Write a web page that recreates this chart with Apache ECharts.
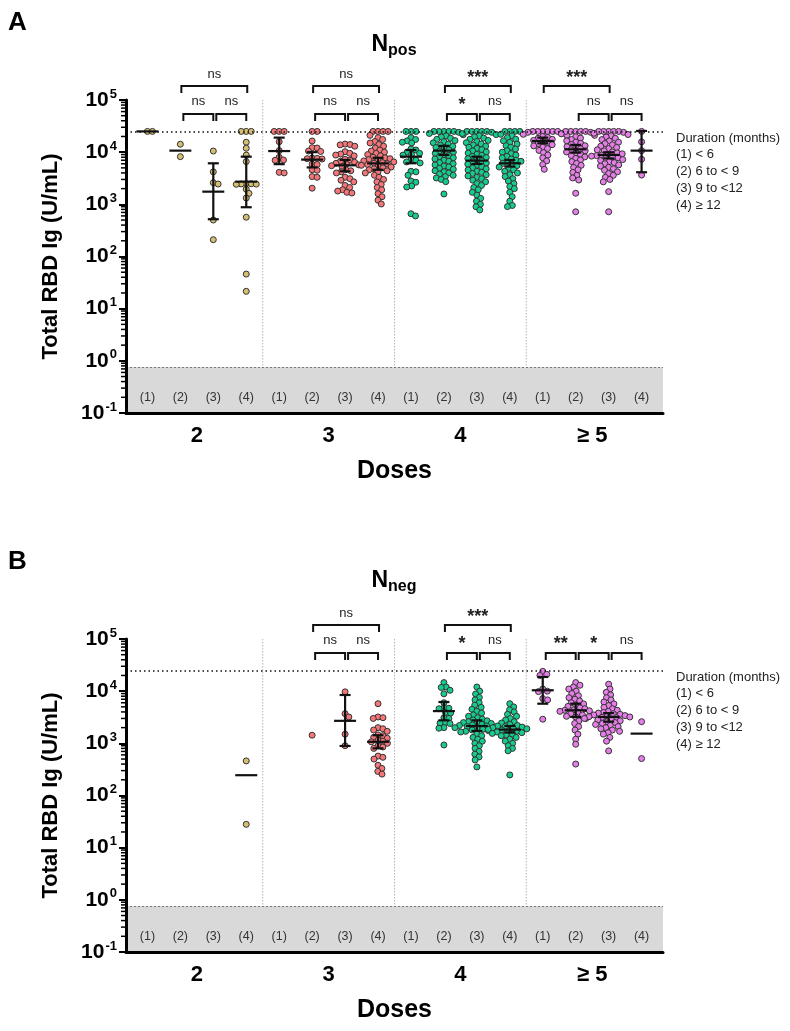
<!DOCTYPE html>
<html><head><meta charset="utf-8">
<script src="https://cdn.jsdelivr.net/npm/echarts@6/dist/echarts.min.js"></script>
<style>html,body{margin:0;padding:0;background:#fff}#c{width:790px;height:1031px}</style>
</head><body><div id="c"></div>
<script>
// ---------- DATA ----------
const doseLabels = ['2', '3', '4', '≥ 5'];
const durationLabels = ['(1)', '(2)', '(3)', '(4)'];
const legendLines = ['Duration (months)', '(1) < 6', '(2) 6 to < 9', '(3) 9 to <12', '(4) ≥ 12'];
const ceilingValue = 25000;
const lodValue = 0.76;
const separatorPositions = [3.5, 7.5, 11.5];

// Panel A (N pos): [dose][duration] values, U/mL
const posDose2 = [
  [25000, 25000],
  [14200, 8200],
  [10500, 4200, 2600, 2450, 500, 210],
  [25000, 25000, 25000, 15500, 11900, 8800, 6600, 2500, 2480, 2460, 2440, 2420, 1950, 1620, 1320, 566, 46, 21.5]
];
const posDose3 = [
  [25000, 25000, 25000, 15900, 10700, 7960, 7100, 7000, 4100, 4000],
  [25000, 25000, 16400, 12200, 12000, 10500, 10300, 7700, 7600, 7500, 7400, 5900, 5800, 4600, 4500, 3400, 3300, 2040],
  [14300, 14000, 13800, 13000, 10200, 9500, 9200, 8800, 8500, 7300, 7000, 6700, 6400, 6100, 5900, 5700, 5500, 5300, 4600, 4400, 4200, 4000, 3300, 3100, 2900, 2700, 2300, 2100, 1900, 1800, 1700, 1650],
  [25000, 25000, 25000, 25000, 21000, 19000, 17500, 16000, 15000, 14000, 13000, 12000, 11000, 10500, 10000, 9500, 9000, 8500, 8000, 7800, 7500, 7200, 7000, 6800, 6500, 6300, 6100, 6000, 5800, 5600, 5400, 5200, 5000, 4800, 4600, 4400, 4200, 4000, 3600, 3300, 3000, 2700, 2400, 2100, 1900, 1600, 1400, 1200, 1015]
];
const posDose4 = [
  [25000, 25000, 25000, 19000, 17500, 16500, 15500, 15000, 11500, 11000, 10000, 9500, 9000, 8800, 7200, 7000, 6500, 6200, 4300, 4200, 3600, 2800, 2650, 2250, 2150, 660, 600],
  [25000, 25000, 25000, 25000, 25000, 24000, 22800, 21600, 20500, 19500, 18500, 17600, 16700, 15900, 15100, 14300, 13600, 12900, 12300, 11700, 11100, 10500, 10000, 9500, 9000, 8600, 8200, 7800, 7400, 7000, 6700, 6300, 6000, 5700, 5400, 5200, 4900, 4700, 4400, 4200, 4000, 3800, 3600, 3400, 3200, 3000, 2720, 1580],
  [25000, 25000, 25000, 25000, 25000, 24000, 22800, 21700, 20600, 19600, 18600, 17700, 16800, 16000, 15200, 14400, 13700, 13000, 12400, 11800, 11200, 10600, 10100, 9600, 9100, 8700, 8300, 7900, 7500, 7100, 6800, 6500, 6200, 5900, 5600, 5300, 5000, 4800, 4550, 4300, 4100, 3900, 3700, 3500, 3300, 3100, 2900, 2700, 2500, 2300, 2100, 1900, 1700, 1500, 1300, 1150, 1000, 900, 780],
  [25000, 25000, 25000, 25000, 22000, 20500, 19000, 17700, 16500, 15400, 14300, 13300, 12400, 11500, 10700, 10000, 9400, 8800, 8300, 7800, 7400, 7000, 6700, 6400, 6100, 5800, 5500, 5200, 4900, 4600, 4300, 4000, 3700, 3400, 3100, 2800, 2500, 2200, 2000, 1700, 1400, 1150, 950, 905]
];
const posDose5 = [
  [25000, 25000, 25000, 25000, 25000, 25000, 24000, 23000, 22000, 21000, 20000, 19200, 18400, 17600, 16800, 16000, 15300, 14600, 13900, 13200, 12500, 11700, 10800, 9800, 8800, 7800, 6800, 5800, 4700],
  [25000, 25000, 25000, 25000, 25000, 24000, 22500, 21000, 19800, 18600, 17500, 16500, 15600, 14800, 14000, 13300, 12700, 12100, 11600, 11100, 10600, 10100, 9600, 9100, 8600, 8100, 7600, 7100, 6600, 6100, 5600, 5100, 4600, 4100, 3600, 3200, 2930, 1630, 720],
  [25000, 25000, 25000, 25000, 25000, 24000, 23000, 21800, 20600, 19500, 18400, 17400, 16400, 15500, 14600, 13800, 13000, 12300, 11700, 11100, 10600, 10100, 9700, 9300, 9000, 8800, 8600, 8400, 8100, 7800, 7500, 7200, 6900, 6600, 6300, 6000, 5700, 5400, 5100, 4800, 4500, 4200, 3900, 3600, 3300, 3000, 2700, 1750, 720],
  [25000, 15800, 10700, 7300, 3640]
];
// median and error bar ends, per duration group (16 = 4 doses x 4 durations)
const posMedian = [25000, 10700, 1750, 2720, 10500, 7200, 5600, 6100, 8200, 10700, 6880, 6120, 16400, 11350, 8830, 10700];
const posUpper  = [null, null, 6120, 8200, 19000, 10000, 7100, 7800, 11000, 13200, 8200, 7070, 19000, 13800, 9950, 25500];
const posLower  = [null, null, 518, 880, 5890, 5100, 4300, 4600, 6130, 8830, 5940, 5300, 14800, 9800, 7580, 4120];
// brackets: [from group, to group, level, label]
const posBrackets = [
  [1, 3, 'top', 'ns'], [1, 2, 'low', 'ns'], [2, 3, 'low', 'ns'],
  [5, 7, 'top', 'ns'], [5, 6, 'low', 'ns'], [6, 7, 'low', 'ns'],
  [9, 11, 'top', '***'], [9, 10, 'low', '*'], [10, 11, 'low', 'ns'],
  [12, 14, 'top', '***'], [13, 14, 'low', 'ns'], [14, 15, 'low', 'ns']
];

// Panel B (N neg)
const negDose2 = [[], [], [], [460, 28]];
const negDose3 = [
  [],
  [1430],
  [9700, 3700, 3200, 1500, 900],
  [5750, 3200, 3100, 3000, 2000, 1900, 1800, 1700, 1450, 1400, 1300, 1250, 1150, 1100, 1070, 1000, 900, 850, 800, 570, 540, 500, 380, 330, 290, 257]
];
const negDose4 = [
  [],
  [14600, 12000, 11800, 10400, 8900, 6000, 4800, 4700, 4600, 3900, 3800, 3100, 3000, 2500, 2450, 2400, 2000, 1950, 930],
  [12000, 10000, 8800, 7600, 6800, 6000, 5400, 4900, 4500, 4100, 3800, 3500, 3300, 3100, 2900, 2800, 2700, 2600, 2500, 2450, 2400, 2300, 2250, 2200, 2150, 2100, 2050, 2000, 1950, 1900, 1850, 1800, 1750, 1700, 1650, 1600, 1500, 1400, 1300, 1200, 1100, 1000, 900, 800, 700, 620, 550, 480, 353],
  [5750, 5000, 4400, 4000, 3600, 3300, 3000, 2800, 2600, 2450, 2300, 2200, 2150, 2100, 2050, 2000, 1950, 1900, 1850, 1800, 1750, 1700, 1650, 1600, 1550, 1500, 1450, 1400, 1300, 1200, 1100, 1000, 900, 800, 720, 248]
];
const negDose5 = [
  [24000, 21000, 20000, 11000, 10000, 9800, 7200, 6800, 2900],
  [14600, 13000, 12000, 11000, 10000, 9000, 8200, 7500, 7000, 6500, 6000, 5700, 5400, 5100, 4800, 4600, 4400, 4300, 4200, 4100, 3900, 3700, 3500, 3300, 3200, 3000, 2700, 2400, 2100, 1800, 1500, 1200, 960, 400],
  [13600, 11000, 9500, 8500, 7500, 6800, 6200, 5700, 5300, 4900, 4600, 4300, 4100, 3900, 3800, 3700, 3600, 3500, 3400, 3300, 3250, 3200, 3150, 3100, 3000, 2900, 2800, 2700, 2600, 2500, 2400, 2300, 2200, 2100, 2000, 1900, 1800, 1700, 1600, 1500, 1300, 1100, 716],
  [2600, 510]
];
const negMedian = [null, null, null, 245, null, null, 2700, 1070, null, 4150, 2150, 1830, 10400, 4300, 3200, 1535];
const negUpper  = [null, null, null, null, null, null, 8450, 1430, null, 6200, 2760, 2150, 18700, 5750, 3800, null];
const negLower  = [null, null, null, null, null, null, 890, 800, null, 2760, 1730, 1610, 5750, 3200, 2600, null];
const negBrackets = [
  [5, 7, 'top', 'ns'], [5, 6, 'low', 'ns'], [6, 7, 'low', 'ns'],
  [9, 11, 'top', '***'], [9, 10, 'low', '*'], [10, 11, 'low', 'ns'],
  [12, 13, 'low', '**'], [13, 14, 'low', '*'], [14, 15, 'low', 'ns']
];

// ---------- STYLE / LAYOUT ----------
const FONT = "'Liberation Sans', Arial, Helvetica, sans-serif";
const doseColors = ['#D3BE72', '#F47679', '#17CB8F', '#E57FE7'];
const GRID_LEFT = 126, GRID_W = 537, GRID_H = 313;
const gridTops = [100, 639];
const XMIN = -0.65, XMAX = 15.65;
const XPX = GRID_W / (XMAX - XMIN), YPX = GRID_H / 6, DIAM = 5;

function swarm(vals) {
  const pts = vals.map(v => ({ v, y: -Math.log10(v) * YPX, x: 0 }));
  const order = pts.slice().sort((a, b) => a.y - b.y);
  const placed = [];
  for (const p of order) {
    const cands = [0];
    for (const q of placed) {
      const dy = Math.abs(q.y - p.y);
      if (dy < DIAM) { const dx = Math.sqrt(DIAM * DIAM - dy * dy); cands.push(q.x + dx, q.x - dx); }
    }
    cands.sort((a, b) => (Math.abs(a) - Math.abs(b)) || (b - a));
    let found = false;
    for (const c of cands) {
      if (placed.every(q => (q.x - c) ** 2 + (q.y - p.y) ** 2 >= DIAM * DIAM - 1e-6)) { p.x = c; found = true; break; }
    }
    if (!found) p.x = Math.max(...placed.map(q => q.x)) + DIAM;
    placed.push(p);
  }
  return pts;
}

const yLabelRich = {
  b: { fontSize: 21, fontWeight: 'bold', color: '#000', fontFamily: FONT },
  s: { fontSize: 13, fontWeight: 'bold', color: '#000', fontFamily: FONT, padding: [0, 0, 12, 1] }
};

const grids = [], xAxes = [], yAxes = [], series = [];
const panels = [
  { doses: [posDose2, posDose3, posDose4, posDose5], med: posMedian, up: posUpper, lo: posLower, br: posBrackets },
  { doses: [negDose2, negDose3, negDose4, negDose5], med: negMedian, up: negUpper, lo: negLower, br: negBrackets }
];
const minorVals = [];
for (let k = -1; k < 5; k++) for (let m = 2; m <= 9; m++) minorVals.push(m * Math.pow(10, k));

panels.forEach((P, p) => {
  grids.push({ left: GRID_LEFT, top: gridTops[p], width: GRID_W, height: GRID_H });
  xAxes.push({
    type: 'value', gridIndex: p, min: XMIN, max: XMAX, position: 'bottom', z: 10,
    axisLine: { show: true, onZero: false, lineStyle: { color: '#000', width: 3 } },
    axisTick: { show: false }, splitLine: { show: false },
    axisLabel: {
      customValues: [0, 1, 2, 3, 4, 5, 6, 7, 8, 9, 10, 11, 12, 13, 14, 15], inside: true, margin: 9,
      formatter: v => durationLabels[Math.round(v) % 4], color: '#333', fontSize: 12.5, fontFamily: FONT
    }
  });
  xAxes.push({
    type: 'value', gridIndex: p, min: XMIN, max: XMAX, position: 'bottom',
    axisLine: { show: false, onZero: false }, axisTick: { show: false }, splitLine: { show: false },
    axisLabel: {
      customValues: [1.5, 5.5, 9.5, 13.5], margin: 12,
      formatter: v => doseLabels[Math.round((v - 1.5) / 4)],
      color: '#000', fontSize: 22, fontWeight: 'bold', fontFamily: FONT
    },
    name: 'Doses', nameLocation: 'middle', nameGap: 46,
    nameTextStyle: { fontSize: 25, fontWeight: 'bold', color: '#000', fontFamily: FONT }
  });
  yAxes.push({
    type: 'log', gridIndex: p, min: 0.1, max: 100000, logBase: 10, z: 10,
    axisLine: { show: true, onZero: false, lineStyle: { color: '#000', width: 3 } },
    axisTick: { show: true, length: 7, lineStyle: { color: '#000', width: 2 } },
    splitLine: { show: false },
    axisLabel: {
      margin: 9,
      formatter: v => '{b|10}{s|' + Math.round(Math.log10(v)) + '}',
      rich: yLabelRich
    },
    name: 'Total RBD Ig (U/mL)', nameLocation: 'middle', nameGap: 64,
    nameTextStyle: { fontSize: 22, fontWeight: 'bold', color: '#000', fontFamily: FONT }
  });
  const xi = 2 * p, yi = p;

  // band below detection limit + ceiling line
  series.push({
    type: 'scatter', xAxisIndex: xi, yAxisIndex: yi, data: [], silent: true, z: 1,
    markArea: { silent: true, itemStyle: { color: '#d9d9d9' }, data: [[{ yAxis: 0.1 }, { yAxis: lodValue }]] },
    markLine: {
      silent: true, symbol: 'none', label: { show: false }, animation: false,
      data: [
        { yAxis: ceilingValue, lineStyle: { color: '#111', width: 1.5, type: [1.5, 3] } },
        { yAxis: lodValue, lineStyle: { color: '#777', width: 1, type: [2, 2] } }
      ]
    }
  });
  // dose separators
  series.push({
    type: 'custom', xAxisIndex: xi, yAxisIndex: yi, silent: true, clip: false, z: 1,
    data: separatorPositions.map(s => [s, 1]),
    renderItem: (params, api) => {
      const a = api.coord([api.value(0), 100000]);
      const b = api.coord([api.value(0), lodValue]);
      return { type: 'line', shape: { x1: a[0], y1: a[1], x2: b[0], y2: b[1] }, style: { stroke: '#b5b5b5', lineWidth: 1, lineDash: [1.5, 1.5] } };
    }
  });
  // minor ticks
  series.push({
    type: 'custom', xAxisIndex: xi, yAxisIndex: yi, silent: true, clip: false,
    data: [[XMIN, 1]],
    renderItem: (params, api) => ({
      type: 'group',
      children: minorVals.map(v => {
        const c = api.coord([XMIN, v]);
        return { type: 'line', shape: { x1: c[0] - 5, y1: c[1], x2: c[0], y2: c[1] }, style: { stroke: '#000', lineWidth: 1.5 } };
      })
    })
  });
  // points
  P.doses.forEach((dose, d) => {
    const data = [];
    dose.forEach((vals, s) => {
      const idx = d * 4 + s;
      swarm(vals).forEach(pt => data.push([idx + pt.x / XPX, pt.v]));
    });
    series.push({
      type: 'scatter', xAxisIndex: xi, yAxisIndex: yi, data, symbolSize: 6, z: 3,
      itemStyle: { color: doseColors[d], borderColor: '#333', borderWidth: 1, opacity: 1 }
    });
  });
  // medians and error bars
  const mIdx = [];
  P.med.forEach((m, i) => { if (m != null) mIdx.push([i, m]); });
  series.push({
    type: 'custom', xAxisIndex: xi, yAxisIndex: yi, silent: true, clip: false, z: 5,
    data: mIdx,
    renderItem: (params, api) => {
      const i = api.value(0);
      const c = api.coord([i, api.value(1)]);
      const st = { stroke: '#111', lineWidth: 2.2 };
      const ch = [{ type: 'line', shape: { x1: c[0] - 11, y1: c[1], x2: c[0] + 11, y2: c[1] }, style: st }];
      if (P.up[i] != null) {
        const u = api.coord([i, P.up[i]]), l = api.coord([i, P.lo[i]]);
        ch.push({ type: 'line', shape: { x1: c[0], y1: u[1], x2: c[0], y2: l[1] }, style: st });
        ch.push({ type: 'line', shape: { x1: c[0] - 5.5, y1: u[1], x2: c[0] + 5.5, y2: u[1] }, style: st });
        ch.push({ type: 'line', shape: { x1: c[0] - 5.5, y1: l[1], x2: c[0] + 5.5, y2: l[1] }, style: st });
      }
      return { type: 'group', children: ch };
    }
  });
  // significance brackets
  series.push({
    type: 'custom', xAxisIndex: xi, yAxisIndex: yi, silent: true, clip: false, z: 6,
    data: P.br.map(b => [b[0], 100000]),
    renderItem: (params, api) => {
      const b = P.br[params.dataIndex];
      const top = api.coord([0, 100000])[1];
      const xa = api.coord([b[0], 100000])[0], xb = api.coord([b[1], 100000])[0];
      let yLine, yLeg, yText, x1, x2;
      if (b[2] === 'top') { yLine = top - 14; yLeg = top - 7; yText = top - 26; x1 = xa + 1; x2 = xb + 1; }
      else { yLine = top + 14; yLeg = top + 21; yText = top + 1; x1 = xa + 3; x2 = xb; }
      const star = b[3].indexOf('*') >= 0;
      return {
        type: 'group', children: [
          { type: 'polyline', shape: { points: [[x1, yLeg], [x1, yLine], [x2, yLine], [x2, yLeg]] }, style: { stroke: '#111', lineWidth: 2, fill: null } },
          { type: 'text', style: { x: (x1 + x2) / 2, y: yText + (star ? 4 : 0), text: b[3], align: 'center', verticalAlign: 'middle',
            font: star ? 'bold 18px ' + FONT : '13px ' + FONT, fill: '#222' } }
        ]
      };
    }
  });
});

const titleSubs = ['pos', 'neg'];
const graphics = [];
['A', 'B'].forEach((L, p) => {
  graphics.push({ type: 'text', left: 8, top: [10, 549][p], style: { text: L, font: 'bold 26px ' + FONT, fill: '#000' } });
  graphics.push({
    type: 'text', x: 394, y: [45, 581][p],
    style: {
      text: '{n|N}{s|' + titleSubs[p] + '}', align: 'center', verticalAlign: 'middle',
      rich: {
        n: { fontSize: 23, fontWeight: 'bold', fontFamily: FONT, fill: '#000' },
        s: { fontSize: 16, fontWeight: 'bold', fontFamily: FONT, fill: '#000', padding: [12, 0, 0, 0] }
      }
    }
  });
  legendLines.forEach((t, i) => {
    graphics.push({ type: 'text', x: 676, y: gridTops[p] + 38 + i * 16.8,
      style: { text: t, font: '13px ' + FONT, fill: '#222', verticalAlign: 'middle' } });
  });
});

const chart = echarts.init(document.getElementById('c'), null, { renderer: 'canvas' });
chart.setOption({
  animation: false,
  backgroundColor: '#fff',
  textStyle: { fontFamily: FONT },
  grid: grids, xAxis: xAxes, yAxis: yAxes, series, graphic: graphics
});
</script>
</body></html>
